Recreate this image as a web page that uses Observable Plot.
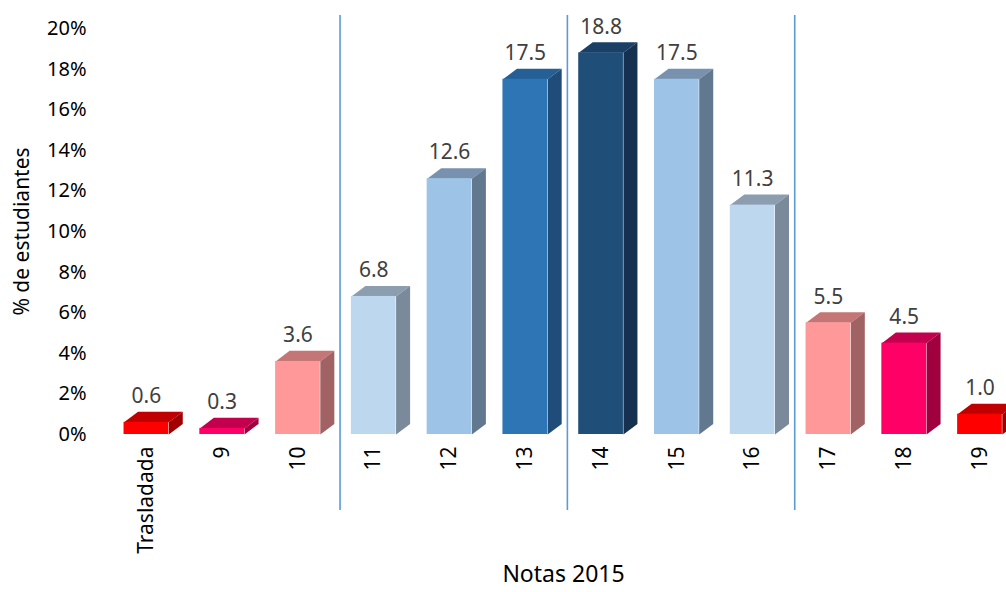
<!DOCTYPE html>
<html>
<head>
<meta charset="utf-8">
<script src="https://cdn.jsdelivr.net/npm/d3@7"></script>
<script src="https://cdn.jsdelivr.net/npm/@observablehq/plot@0.6"></script>
<style>
  html, body { margin: 0; padding: 0; background: #fff; }
  #chart svg { display: block; }
</style>
</head>
<body>
<div id="chart"></div>
<script>
// ---- data ----
const categories = ["Trasladada", "9", "10", "11", "12", "13", "14", "15", "16", "17", "18", "19"];
const values = [0.6, 0.3, 3.6, 6.8, 12.6, 17.5, 18.8, 17.5, 11.3, 5.5, 4.5, 1.0];
const yTicks = [0, 2, 4, 6, 8, 10, 12, 14, 16, 18, 20];
const groupBreaksAfter = ["10", "13", "16"];
const xTitle = "Notas 2015";
const yTitle = "% de estudiantes";

// ---- styles ----
const palette = {
  red:   {front: "#ff0000", top: "#c00000", side: "#a20000"},
  pink:  {front: "#ff0066", top: "#c2004e", side: "#a0003e"},
  salmon:{front: "#ff9999", top: "#c47575", side: "#a06262"},
  pale:  {front: "#bdd7ee", top: "#8c9db0", side: "#7a8a9a"},
  light: {front: "#9dc3e6", top: "#7791ae", side: "#62788f"},
  mid:   {front: "#2e75b6", top: "#245f95", side: "#1f4c78"},
  dark:  {front: "#1f4e79", top: "#1a4066", side: "#15314f"}
};
const shadeOf = {
  "Trasladada": "red", "9": "pink", "10": "salmon", "11": "pale", "12": "light", "13": "mid",
  "14": "dark", "15": "light", "16": "pale", "17": "salmon", "18": "pink", "19": "red"
};
const font = "'Noto Sans', 'Open Sans', sans-serif";

// ---- geometry (in scale units) ----
const halfW = 0.295;   // half of the front face width
const depthX = 0.185;  // 3D depth, horizontal
const depthY = 0.52;   // 3D depth, vertical (%)

const bars = categories.map((c, i) => ({c, i, v: values[i], col: palette[shadeOf[c]]}));

const polys = [];
for (const b of bars) {
  const x0 = b.i - halfW, x1 = b.i + halfW;
  // top face
  [[x0, b.v], [x1, b.v], [x1 + depthX, b.v + depthY], [x0 + depthX, b.v + depthY]]
    .forEach(([x, y]) => polys.push({key: b.c + "-top", x, y, fill: b.col.top}));
  // side face
  [[x1, 0], [x1 + depthX, depthY], [x1 + depthX, b.v + depthY], [x1, b.v]]
    .forEach(([x, y]) => polys.push({key: b.c + "-side", x, y, fill: b.col.side}));
}

const breaks = groupBreaksAfter.map(c => categories.indexOf(c) + 0.5 + depthX * 0.3);

const chart = Plot.plot({
  width: 1006,
  height: 592,
  marginLeft: 108,
  marginRight: 0,
  marginTop: 28,
  marginBottom: 158,
  style: {fontFamily: font, fontSize: "20px", color: "#000", background: "#fff"},
  x: {type: "linear", domain: [-0.5, 11.35]},
  y: {type: "linear", domain: [0, 20]},
  color: {type: "identity"},
  marks: [
    Plot.ruleX(breaks, {x: d => d, stroke: "#5b9bd5", strokeWidth: 1.6, insetTop: -13, insetBottom: -76}),
    Plot.line(polys, {x: "x", y: "y", z: "key", fill: "fill", stroke: "none", curve: "linear"}),
    Plot.rectY(bars, {x1: d => d.i - halfW, x2: d => d.i + halfW, y1: 0, y2: "v", fill: d => d.col.front}),
    Plot.text(bars, {x: "i", y: "v", text: d => d3.format(".1f")(d.v), dy: -26, fill: "#404040",
      fontSize: 21, fontFamily: font}),
    Plot.axisY(yTicks, {tickSize: 0, tickPadding: 22, tickFormat: d => d + "%", label: null,
      fontSize: 20, fill: "#000"}),
    Plot.axisX(d3.range(categories.length), {tickSize: 0, tickPadding: 12, tickRotate: -90,
      tickFormat: i => categories[i], label: null, fontSize: 21, fill: "#000"}),
    Plot.text([yTitle], {frameAnchor: "left", textAnchor: "middle", rotate: -90, dx: -86,
      fontSize: 21, fill: "#000"}),
    Plot.text([xTitle], {frameAnchor: "bottom", textAnchor: "middle", dx: 6, dy: 147,
      fontSize: 23, fill: "#000"})
  ]
});
document.getElementById("chart").appendChild(chart);
</script>
</body>
</html>
